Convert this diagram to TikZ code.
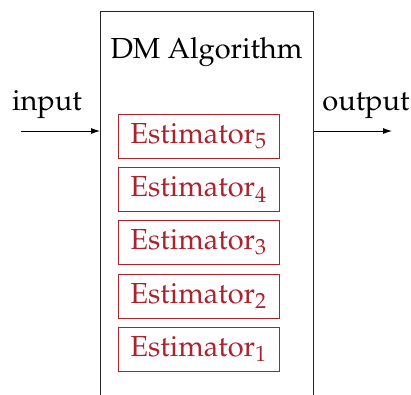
\documentclass[tikz,border=0pt]{standalone}
\usepackage[T1]{fontenc}
\usepackage{mathpazo}
\usetikzlibrary{arrows.meta}
\definecolor{estred}{RGB}{170,35,45}
\tikzset{
  estbox/.style={draw=estred, text=estred, line width=0.9pt, minimum width=161pt, minimum height=44pt, inner sep=0pt},
  bigtext/.style={font=\fontsize{29}{34}\selectfont},
  flow/.style={-{Latex[length=9pt,width=6pt]}, line width=0.9pt}
}
\begin{document}
\begin{tikzpicture}[x=1pt,y=-1pt]
\useasboundingbox (0,0) rectangle (411,394);
\clip (0,0) rectangle (411,394);
\draw[line width=0.9pt, draw=black!85] (100,11) rectangle (313.5,420);
\node[bigtext, anchor=base] (title) at (206.5,58) {DM Algorithm};
\node[estbox, bigtext] (e5) at (198.5,136) {Estimator$_5$};
\node[estbox, bigtext] (e4) at (198.5,189.5) {Estimator$_4$};
\node[estbox, bigtext] (e3) at (198.5,242.5) {Estimator$_3$};
\node[estbox, bigtext] (e2) at (198.5,296) {Estimator$_2$};
\node[estbox, bigtext] (e1) at (198.5,349) {Estimator$_1$};
\coordinate (inL) at (21,131);
\coordinate (inR) at (100,131);
\coordinate (outL) at (313.5,131);
\coordinate (outR) at (392,131);
\draw[flow] (inL) -- (inR);
\draw[flow] (outL) -- (outR);
\node[bigtext, anchor=base] (input) at (47,110) {input};
\node[bigtext, anchor=base] (output) at (366,110) {output};
\end{tikzpicture}
\end{document}
